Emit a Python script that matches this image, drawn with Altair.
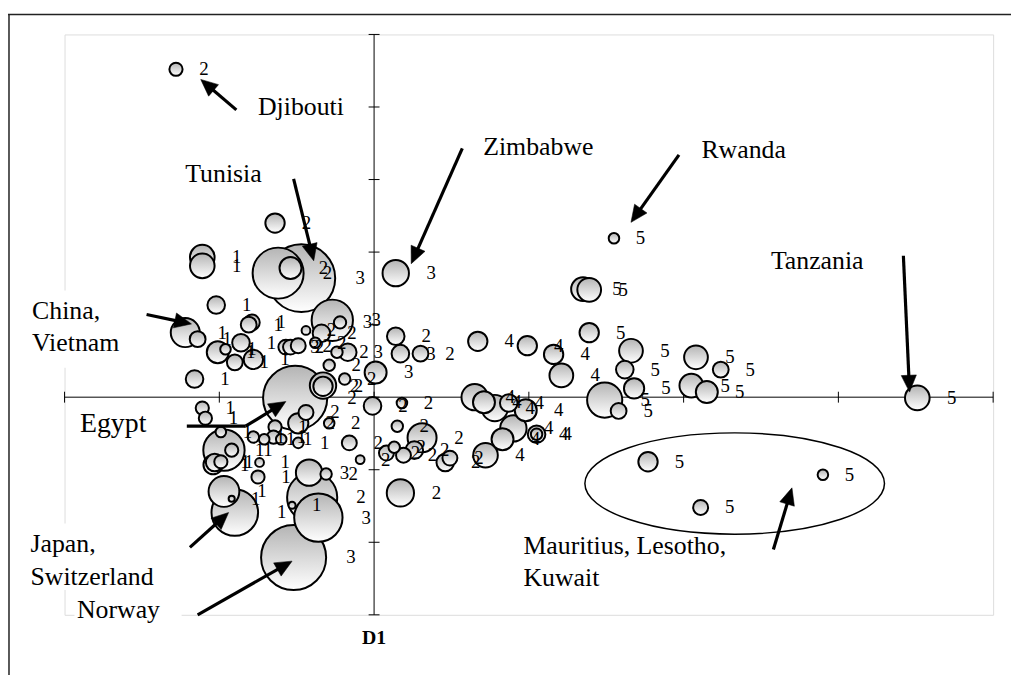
import math
import altair as alt
import pandas as pd

# ---------------- bubble data (D1, D2, bubble weight, cluster) ----------------
d1 = [-1.28, -0.64, -1.11, -1.11, -0.47, -0.62, -0.54, 0.14, 1.55, 1.35,
      1.39, -1.02, -0.79, -0.81, -1.22, -1.14, -1.01, -0.96, -0.86, -0.90,
      -0.78, -1.16, -0.57, -0.54, -0.49, -0.44, -0.27, -0.22, -0.34, -0.38,
      -0.17, -0.24, -0.29, -0.19, 0.01, -0.51, -0.33, -0.33, -0.01, 0.18,
      0.15, 0.31, -0.44, -0.49, -0.29, -1.11, -1.09, -0.64, -0.97, -0.99,
      -0.92, -0.99, -1.03, -1.04, -0.78, -0.71, -0.65, -0.60, -0.49, -0.74,
      -0.75, -0.97, -0.92, -0.90, -0.42, -0.31, -0.40, -0.53, -0.36, -0.52,
      -0.16, -0.09, 0.17, 0.08, 0.13, 0.19, 0.26, 0.46, 0.49, 0.14,
      0.17, 0.30, 0.67, 0.99, 1.16, 1.21, 1.39, 1.66, 1.62, 1.68,
      1.49, 1.58, 2.08, 2.24, 2.05, 2.15, 3.51, 0.65, 0.71, 0.78,
      0.87, 0.98, 0.90, 0.83, 1.05, 1.05, 0.72, 1.77, 2.90, 2.11]
d2 = [4.52, 2.40, 1.93, 1.81, 1.64, 1.71, 1.78, 1.71, 2.19, 1.49,
      1.48, 1.27, 1.03, 1.00, 0.89, 0.80, 0.62, 0.66, 0.75, 0.48,
      0.52, 0.25, 0.69, 0.69, 0.71, 0.92, 1.06, 1.03, 0.88, 0.75,
      0.62, 0.62, 0.44, 0.25, 0.34, -0.01, 0.16, 0.15, -0.12, -0.08,
      -0.40, -0.56, -0.21, -0.36, -0.36, -0.15, -0.29, -0.41, -0.73, -0.48,
      -0.73, -0.89, -0.90, -0.93, -0.55, -0.58, -0.55, -0.58, -0.63, -0.90,
      -1.10, -1.30, -1.40, -1.59, -1.04, -1.06, -1.38, -1.49, -1.66, -2.21,
      -0.63, -0.86, -1.32, -0.77, -0.69, -0.80, -0.73, -0.90, -0.84, 0.84,
      0.60, 0.60, 0.77, 0.71, 0.59, 0.30, 0.89, 0.64, 0.38, 0.12,
      -0.04, -0.19, 0.55, 0.38, 0.16, 0.07, -0.01, 0.00, -0.07, -0.15,
      -0.08, -0.18, -0.43, -0.58, -0.51, -0.51, -0.80, -0.89, -1.07, -1.52]
weight = [15, 22, 28, 28, 77, 58, 25, 30, 12, 27,
          27, 20, 18, 18, 33, 18, 25, 12, 20, 18,
          22, 20, 17, 17, 17, 10, 47, 14, 20, 12,
          20, 13, 13, 13, 25, 73, 30, 22, 20, 12,
          13, 33, 17, 23, 12, 15, 15, 15, 47, 12,
          15, 15, 20, 22, 13, 12, 15, 12, 12, 10,
          15, 35, 7, 53, 30, 13, 57, 8, 55, 74,
          17, 10, 31, 17, 13, 17, 20, 20, 17, 20,
          20, 18, 22, 22, 22, 27, 22, 27, 20, 23,
          40, 18, 27, 18, 27, 25, 28, 30, 25, 30,
          20, 25, 30, 25, 20, 13, 28, 22, 12, 17]
cluster = [2, 2, 1, 1, 3, 2, 2, 3, 5, 5,
           5, 1, 1, 1, 1, 1, 1, 1, 1, 1,
           1, 1, 3, 2, 2, 2, 3, 3, 2, 2,
           3, 2, 2, 2, 3, 2, 2, 2, 2, 2,
           2, 2, 2, 2, 2, 1, 1, 1, 1, 1,
           1, 1, 1, 1, 1, 1, 1, 1, 1, 1,
           1, 1, 1, 1, 3, 2, 2, 1, 3, 3,
           2, 2, 2, 2, 2, 2, 2, 2, 2, 2,
           3, 2, 4, 4, 4, 4, 5, 5, 5, 5,
           5, 5, 5, 5, 5, 5, 5, 4, 4, 4,
           4, 4, 4, 4, 4, 4, 4, 5, 5, 5]

# ---------------- axes ----------------
X_DOMAIN = [-2, 4]
Y_DOMAIN = [-3, 5]
x_ticks = [-2, -1, 0, 1, 2, 3, 4]
y_ticks = [-3, -2, -1, 0, 1, 2, 3, 4, 5]
x_title = "D1"

# ---------------- annotations ----------------
ann_text = ["Djibouti", "Tunisia", "Zimbabwe", "Rwanda", "Tanzania", "China,", "Vietnam",
            "Egypt", "Japan,", "Switzerland", "Norway", "Mauritius, Lesotho,", "Kuwait"]
ann_x = [-0.75, -1.22, 0.705, 2.115, 2.564, -2.21, -2.21,
         -1.90, -2.22, -2.22, -1.92, 0.965, 0.965]
ann_y = [4.00, 3.07, 3.45, 3.41, 1.88, 1.19, 0.75,
         -0.37, -2.03, -2.48, -2.93, -2.05, -2.49]
ann_size = [26, 26, 26, 26, 26, 26, 26, 28, 26, 26, 26, 26, 26]

# arrows: start -> end, with or without head
arr_x1 = [-0.89, -0.52, 0.57, 1.97, 3.42, -1.47, -1.21, -0.83, -1.19, -1.14, 2.58]
arr_y1 = [3.96, 3.01, 3.43, 3.34, 1.95, 1.14, -0.40, -0.40, -2.07, -3.00, -2.10]
arr_x2 = [-1.12, -0.39, 0.24, 1.66, 3.46, -1.18, -0.83, -0.57, -0.94, -0.53, 2.70]
arr_y2 = [4.38, 1.88, 1.84, 2.41, 0.07, 1.01, -0.40, -0.06, -1.59, -2.26, -1.25]
arr_head = [1, 1, 1, 1, 1, 1, 0, 1, 1, 1, 1]

# ellipse around Mauritius, Lesotho, Kuwait
ell_x = [2.33]
ell_y = [-1.19]

# ---------------- layout ----------------
W, H = 936, 585
PX_X = W / (X_DOMAIN[1] - X_DOMAIN[0])
PX_Y = H / (Y_DOMAIN[1] - Y_DOMAIN[0])
SERIF = "Liberation Serif"

xs = alt.Scale(domain=X_DOMAIN, nice=False, zero=False)
ys = alt.Scale(domain=Y_DOMAIN, nice=False, zero=False)


def X(f):
    return alt.X(f, scale=xs, axis=None)


def Y(f):
    return alt.Y(f, scale=ys, axis=None)


GRAD = {"gradient": "linear", "x1": 0, "y1": 0, "x2": 0, "y2": 1,
        "stops": [{"offset": 0, "color": "#b4b4b4"}, {"offset": 1, "color": "#ffffff"}]}

bub = pd.DataFrame({"x": d1, "y": d2, "w": weight, "c": cluster})
bub["lab"] = bub["c"].astype(str)

bubbles = alt.Chart(bub).mark_circle(
    fill=GRAD, stroke="black", strokeWidth=2, opacity=1
).encode(
    x=X("x:Q"), y=Y("y:Q"),
    size=alt.Size("w:Q", scale=alt.Scale(type="pow", exponent=2, domain=[0, 100],
                                         range=[0, math.pi * 100 ** 2 / 4]), legend=None),
    order=alt.Order("w:Q", sort="descending"),
)

labels = alt.Chart(bub).transform_calculate(
    lx=f"datum.x + (datum.w / 2 + 16) / {PX_X}"
).mark_text(font=SERIF, fontSize=19, align="left", baseline="middle", color="black").encode(
    x=X("lx:Q"), y=Y("y:Q"), text="lab:N"
)

# axis lines and ticks
axdf = pd.DataFrame({"k": [0]})
xline = alt.Chart(axdf).transform_calculate(a=str(X_DOMAIN[0]), b=str(X_DOMAIN[1]), z="0").mark_rule(
    color="black", strokeWidth=1).encode(x=X("a:Q"), x2="b:Q", y=Y("z:Q"))
yline = alt.Chart(axdf).transform_calculate(a=str(Y_DOMAIN[0]), b=str(Y_DOMAIN[1]), z="0").mark_rule(
    color="black", strokeWidth=1).encode(y=Y("a:Q"), y2="b:Q", x=X("z:Q"))
xt = alt.Chart(pd.DataFrame({"t": x_ticks})).transform_calculate(
    lo=f"-5.5/{PX_Y}", hi=f"5.5/{PX_Y}").mark_rule(color="black", strokeWidth=1).encode(
    x=X("t:Q"), y=Y("lo:Q"), y2="hi:Q")
yt = alt.Chart(pd.DataFrame({"t": y_ticks})).transform_calculate(
    lo=f"-5.5/{PX_X}", hi=f"5.5/{PX_X}").mark_rule(color="black", strokeWidth=1).encode(
    y=Y("t:Q"), x=X("lo:Q"), x2="hi:Q")

# ellipse
k, b = 0.5523, 0.338
ELL = (f"M-1,0C-1,{-k*b:.4f} {-k:.4f},{-b} 0,{-b}C{k:.4f},{-b} 1,{-k*b:.4f} 1,0"
       f"C1,{k*b:.4f} {k:.4f},{b} 0,{b}C{-k:.4f},{b} -1,{k*b:.4f} -1,0Z")
ellipse = alt.Chart(pd.DataFrame({"x": ell_x, "y": ell_y})).mark_point(
    shape=ELL, size=302 ** 2, filled=False, stroke="black", strokeWidth=1.5, opacity=1
).encode(x=X("x:Q"), y=Y("y:Q"))

# arrows
rows = []
for x1, y1, x2, y2, h in zip(arr_x1, arr_y1, arr_x2, arr_y2, arr_head):
    dxs, dys = (x2 - x1) * PX_X, (y2 - y1) * PX_Y
    L = math.hypot(dxs, dys)
    back = 9 if h else 0
    ex, ey = x2 - back * dxs / L / PX_X, y2 - back * dys / L / PX_Y
    ang = math.degrees(math.atan2(dxs, dys)) % 360
    rows.append({"x1": x1, "y1": y1, "ex": ex, "ey": ey, "x2": x2, "y2": y2, "h": h, "ang": ang})
arr = pd.DataFrame(rows)
shafts = alt.Chart(arr).mark_rule(color="black", strokeWidth=3.2).encode(
    x=X("x1:Q"), y=Y("y1:Q"), x2="ex:Q", y2="ey:Q")
HEAD = "M0,0L-0.45,1L0.45,1Z"
heads = alt.Chart(arr[arr["h"] == 1]).mark_point(
    shape=HEAD, size=34 ** 2, filled=True, fill="black", stroke="black", strokeWidth=0.5, opacity=1
).encode(x=X("x2:Q"), y=Y("y2:Q"), angle=alt.Angle("ang:Q", scale=None))

# white boxes behind side labels (they interrupt the frame of the plot)
boxes = pd.DataFrame({"a": [-37, -37, 10], "b": [63, 95, 118], "c": [258, 493, 561], "d": [336, 560, 595]})
box = alt.Chart(boxes).mark_rect(fill="white", opacity=1).encode(
    x=alt.X("a:Q", scale=None), x2="b:Q", y=alt.Y("c:Q", scale=None), y2="d:Q")

ann = pd.DataFrame({"t": ann_text, "x": ann_x, "y": ann_y, "s": ann_size})
ann_txt = alt.Chart(ann).mark_text(font=SERIF, align="left", baseline="middle", color="black").encode(
    x=X("x:Q"), y=Y("y:Q"), text="t:N", size=alt.Size("s:Q", scale=None))

title = alt.Chart(pd.DataFrame({"x": [0], "t": [x_title]})).mark_text(
    font=SERIF, fontSize=20, fontWeight="bold", align="center", baseline="middle").encode(
    x=X("x:Q"), y=alt.value(608), text="t:N")

# outer frame (top & left edges visible)
one = pd.DataFrame({"k": [0]})
frame_top = alt.Chart(one).mark_rule(color="#222222", strokeWidth=1.5).encode(
    x=alt.value(-57), x2=alt.value(960), y=alt.value(-20))
frame_left = alt.Chart(one).mark_rule(color="#222222", strokeWidth=1.5).encode(
    x=alt.value(-56), y=alt.value(-20), y2=alt.value(660))

chart = alt.layer(
    frame_top, frame_left, box, xline, yline, xt, yt, ellipse,
    bubbles, labels, shafts, heads, ann_txt, title
).properties(
    width=W, height=H, autosize="none",
    padding={"left": 57, "top": 24, "right": 18, "bottom": 58},
).configure_view(stroke="#b0b0b0", strokeWidth=2).configure(background="white")

chart.save("out.html", embed_options={"renderer": "svg", "actions": False})
